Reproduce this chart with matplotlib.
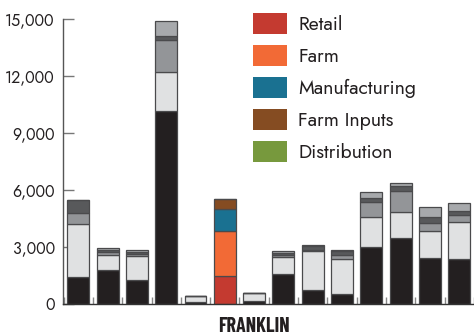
import matplotlib
matplotlib.use("Agg")
import matplotlib.pyplot as plt
from matplotlib.patches import Rectangle
import numpy as np

# ---- data ----
categories = ["Retail", "Farm", "Manufacturing", "Farm Inputs", "Distribution"]
retail        = [1400, 1800, 1250, 10150, 120, 1450, 150, 1570,  720,  510, 3000, 3450, 2430, 2360]
farm          = [2800,  800, 1270,  2060, 280, 2400, 450,  930, 2060, 1850, 1600, 1410, 1420, 1950]
manufacturing = [ 600,  150,  120,  1690,   0, 1150,   0,  100,   50,  230,  790, 1070,  410,  350]
farm_inputs   = [ 700,  100,  120,   215,   0,  550,   0,  100,  200,  200,  180,  260,  300,  210]
distribution  = [   0,   80,   80,   785,   0,    0,   0,  100,   50,   60,  350,  180,  540,  450]
highlight_index = 5
highlight_label = "FRANKLIN"
yticks = [0, 3000, 6000, 9000, 12000, 15000]

series = [retail, farm, manufacturing, farm_inputs, distribution]
colors_hi = ["#c43a30", "#f26a36", "#1a7191", "#854c22", "#77993d"]
colors_gray = ["#231f20", "#e0e1e2", "#939598", "#58595b", "#a7a9ac"]

plt.rcParams["font.family"] = ["Jost", "DejaVu Sans"]

W, H = 474, 336
fig = plt.figure(figsize=(W/100, H/100), dpi=100)
ax = fig.add_axes([63/W, 32/H, 1 - 63/W, (304-19)/H])

n = len(retail)
x = np.arange(n)
bottom = np.zeros(n)
for si, vals in enumerate(series):
    vals = np.array(vals, dtype=float)
    cols = [colors_hi[si] if i == highlight_index else colors_gray[si] for i in range(n)]
    ax.bar(x, vals, bottom=bottom, width=0.75, color=cols,
           edgecolor="#4a4a4c", linewidth=0.9, zorder=2)
    bottom += vals

ax.set_ylim(0, 15000)
ax.set_xlim(-0.52, 13.41)
ax.set_yticks(yticks)
ax.set_yticklabels([f"{v:,}" for v in yticks], fontsize=11.5, color="#231f20")
ax.set_xticks(np.arange(-0.5, n, 1))
ax.set_xticklabels([])
ax.tick_params(axis="y", direction="in", length=8, width=1, color="#777777", pad=6)
ax.tick_params(axis="x", direction="in", length=5, width=1, color="#888888")
for s in ["top", "right"]:
    ax.spines[s].set_visible(False)
ax.spines["left"].set_color("#555555")
ax.spines["bottom"].set_color("#333333")
ax.spines["left"].set_linewidth(1)
ax.spines["bottom"].set_linewidth(1)

# legend drawn in figure pixels
sq_left, sq_w, sq_h, top0, step = 252.7, 34, 20.5, 13, 32
for i, (lab, c) in enumerate(zip(categories, colors_hi)):
    y_top = top0 + i * step
    fig.patches.append(Rectangle((sq_left/W, 1 - (y_top + sq_h)/H), sq_w/W, sq_h/H,
                                 transform=fig.transFigure, facecolor=c, edgecolor="none"))
    fig.text(298/W, 1 - (y_top + sq_h/2 + 1)/H, lab, ha="left", va="center",
             fontsize=14, color="#231f20")

fig.text(253.7/W, 1 - 326/H, highlight_label, ha="center", va="center",
         fontsize=14.5, fontweight="bold", color="#231f20",
         family=["Barlow Condensed", "DejaVu Sans"])

fig.savefig("out.png", dpi=100)
